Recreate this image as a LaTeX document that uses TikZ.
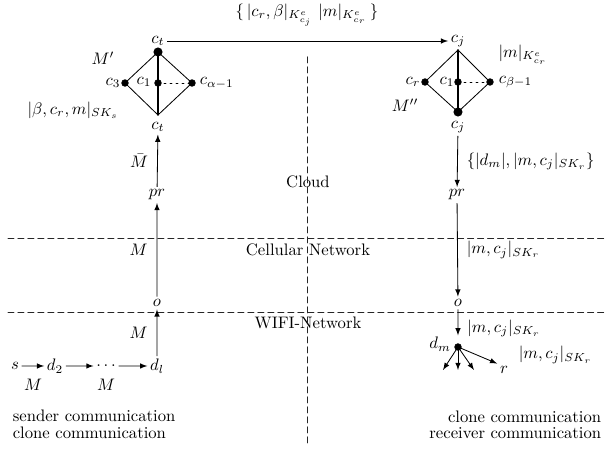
\documentclass[tikz,border=0pt]{standalone}
\usepackage{tkz-euclide}
\usetikzlibrary{arrows,calc}
\tikzset{
  msg/.style={-latex,line width=.5pt},
  zone/.style={line width=.6pt,dash pattern=on 3.6pt off 2.4pt,black!85},
  lbl/.style={inner sep=1.5pt},
}

\begin{document}
\begin{tikzpicture}[scale=.211]
\useasboundingbox (0,0) rectangle (60.8,-45.2);
\tkzSetUpLine[line width=.5pt,color=black]
\tkzSetUpPoint[fill=black]

% zones
\tkzDefPoints{0.8/-23.9/Za,60.5/-23.9/Zb,0.8/-31.3/Zc,60.5/-31.3/Zd,30.8/-5.7/Ze,30.8/-44.5/Zf}
\node (cloud) at (30.8,-18.2) {Cloud};
\node (cell) at (30.8,-25.0) {Cellular Network};
\node (wifi) at (30.8,-32.3) {WIFI-Network};
\tkzDrawSegments[zone](Za,Zb Zc,Zd Ze,Zf)

% sender side diamond
\tkzDefPoints{15.8/-5.2/Ct,12.5/-8.3/C3,15.8/-8.3/C1,19.2/-8.3/Ca,15.8/-11.5/Cb}
\tkzDrawSegments(Ct,C3 Ct,Ca C3,Cb Ca,Cb)
\tkzDrawSegment[line width=.8pt](Ct,Cb)
\tkzDrawSegment[dash pattern=on 1.2pt off 2.4pt](C1,Ca)
\tkzDrawPoints[size=4](C3,C1,Ca)
\tkzDrawPoints[size=5](Ct)
\node[lbl] (ctT) at (15.8,-4.1) {$c_t$};
\node[lbl] (c3) at (11.3,-8.3) {$c_3$};
\node[lbl] (c1) at (14.4,-8.2) {$c_1$};
\node[lbl,anchor=west] (ca) at (19.7,-8.3) {$c_{\alpha-1}$};
\node[lbl] (ctB) at (15.8,-12.7) {$c_t$};
\node[lbl] (Mp) at (10.3,-5.8) {$M'$};
\node[lbl] (keyS) at (7.3,-11.0) {$|\beta,c_r,m|_{SK_s}$};

% receiver side diamond
\tkzDefPoints{45.8/-5.0/Jt,42.5/-8.2/Cr,45.8/-8.2/Cr1,49.0/-8.2/Cbt,45.8/-11.2/Jb}
\tkzDrawSegments(Jt,Cr Jt,Cbt Cr,Jb Cbt,Jb)
\tkzDrawSegment[line width=.8pt](Jt,Jb)
\tkzDrawSegment[dash pattern=on 1.2pt off 2.4pt](Cr1,Cbt)
\tkzDrawPoints[size=4](Cr,Cr1,Cbt)
\tkzDrawPoints[size=5](Jb)
\node[lbl] (cjT) at (45.8,-4.1) {$c_j$};
\node[lbl] (cr) at (41.3,-8.2) {$c_r$};
\node[lbl] (cr1) at (44.7,-8.2) {$c_1$};
\node[lbl,anchor=west] (cbt) at (49.6,-8.2) {$c_{\beta-1}$};
\node[lbl] (cjB) at (45.8,-12.7) {$c_j$};
\node[lbl] (Mpp) at (40.5,-10.5) {$M''$};
\node[lbl] (keyR) at (52.3,-5.5) {$|m|_{K^e_{c_r}}$};

% cloud transfer
\node[lbl] (keyT) at (30.7,-1.5) {$\{\,|c_r,\beta|_{K^e_{c_j}}\ |m|_{K^e_{c_r}}\,\}$};
\draw[msg] (ctT) -- (cjT);

% sender column
\node[lbl] (prS) at (15.7,-19.5) {$pr$};
\node[lbl] (oS) at (15.7,-30.3) {$o$};
\node[lbl] (s) at (1.5,-36.6) {$s$};
\node[lbl] (d2) at (5.5,-36.6) {$d_2$};
\node[lbl] (dots) at (10.6,-36.6) {$\ldots$};
\node[lbl] (dl) at (15.7,-36.6) {$d_l$};
\draw[msg] (prS) -- (ctB) node[midway,left=2pt] {$\bar{M}$};
\draw[msg] (oS) -- (prS) node[midway,left=2pt] {$M$};
\draw[msg] (dl) -- (oS) node[midway,left=2pt] {$M$};
\draw[msg] (s) -- (d2);
\draw[msg] (d2) -- (dots.west);
\draw[msg] (dots.east) -- (dl);
\node[lbl] (ms1) at (3.3,-38.5) {$M$};
\node[lbl] (ms2) at (10.6,-38.5) {$M$};
\node[lbl,anchor=west] (snd) at (1.0,-41.6) {sender communication};
\node[lbl,anchor=west] (cln) at (1.0,-43.3) {clone communication};

% receiver column
\node[lbl] (prR) at (45.7,-19.5) {$pr$};
\node[lbl] (oR) at (45.8,-30.3) {$o$};
\tkzDefPoints{45.8/-34.7/Dm,44.3/-37.0/F1,45.8/-37.0/F2,47.4/-37.0/F3}
\tkzDrawPoints[size=4](Dm)
\node[lbl] (dm) at (44.0,-34.4) {$d_m$};
\node[lbl] (r) at (50.4,-37.0) {$r$};
\draw[msg] (cjB) -- (prR) node[midway,right=2pt] {$\{|d_m|,|m,c_j|_{SK_r}\}$};
\draw[msg] (prR) -- (oR) node[midway,right=2pt] {$|m,c_j|_{SK_r}$};
\draw[msg,shorten >=7pt] (oR) -- (Dm) node[midway,right=2pt] {$|m,c_j|_{SK_r}$};
\tkzDrawSegments[msg](Dm,F1 Dm,F2 Dm,F3)
\draw[msg] (Dm) -- (r.north west);
\node[lbl,anchor=west] (keyRr) at (51.6,-35.5) {$|m,c_j|_{SK_r}$};
\node[lbl,anchor=east] (cln2) at (60.4,-41.7) {clone communication};
\node[lbl,anchor=east] (rcv) at (60.4,-43.3) {receiver communication};

\end{tikzpicture}
\end{document}
